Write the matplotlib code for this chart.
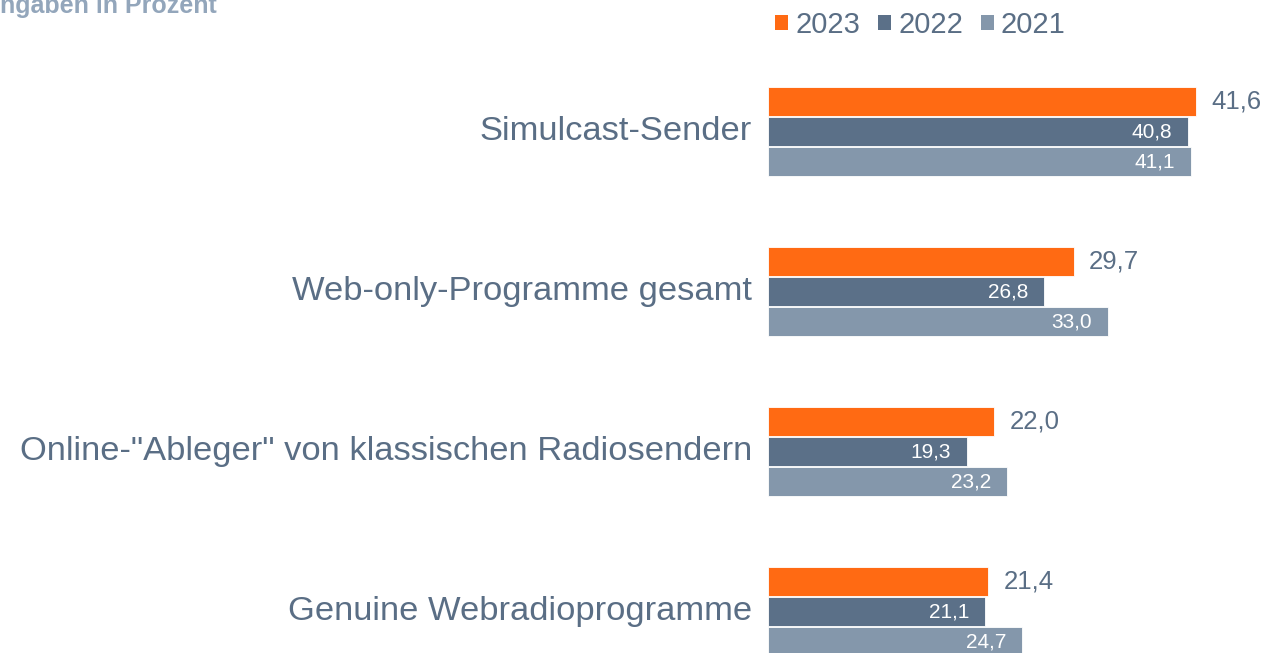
import matplotlib.pyplot as plt
from matplotlib.patches import Patch

plt.rcParams['font.family'] = ['Liberation Sans', 'DejaVu Sans']

categories = ['Simulcast-Sender', 'Web-only-Programme gesamt',
              'Online-"Ableger" von klassischen Radiosendern', 'Genuine Webradioprogramme']
years = ['2023', '2022', '2021']
v2023 = [41.6, 29.7, 22.0, 21.4]
v2022 = [40.8, 26.8, 19.3, 21.1]
v2021 = [41.1, 33.0, 23.2, 24.7]

colors = {'2023': '#ff6a13', '2022': '#5b7088', '2021': '#8497ab'}
text_col = '#5a6e85'

W, H = 1266, 653
fig = plt.figure(figsize=(W / 100, H / 100), dpi=100)
x0 = 768
scale = 10.29  # px per percent
ax = fig.add_axes([x0 / W, 0, 1 - x0 / W, 1])
ax.set_xlim(0, (W - x0) / scale)
ax.set_ylim(3 + (H - 611.5) / 160, -131.5 / 160)
ax.axis('off')

series = [('2023', v2023), ('2022', v2022), ('2021', v2021)]
offsets = [-0.1875, 0.0, 0.1875]
for (yr, vals), off in zip(series, offsets):
    for i, v in enumerate(vals):
        y = i + off
        ax.barh(y, v, height=0.178, color=colors[yr], edgecolor='white', linewidth=0.6)
        if yr == '2023':
            ax.text(v + 1.5, y, f'{v:.1f}'.replace('.', ','), ha='left', va='center',
                    fontsize=18.5, color=text_col)
        else:
            ax.text(v - 1.5, y, f'{v:.1f}'.replace('.', ','), ha='right', va='center',
                    fontsize=15, color='white')

for i, c in enumerate(categories):
    ax.text(-16 / scale, i, c, ha='right', va='center', fontsize=24.8, color=text_col,
            clip_on=False)

handles = [Patch(facecolor=colors[y], edgecolor='none', label=y) for y in years]
fig.legend(handles=handles, loc='upper left', bbox_to_anchor=(775 / W, 1 - 11 / H),
           ncol=3, frameon=False, fontsize=21, handlelength=0.45, handleheight=0.45,
           handletextpad=0.25, columnspacing=0.6, borderpad=0, borderaxespad=0,
           labelcolor=text_col)

fig.text(-18 / W, 1 - 13 / H, 'Angaben in Prozent', ha='left', va='baseline',
         fontsize=18, fontweight='bold', color='#93a6bb')

fig.savefig('out.png', dpi=100)
